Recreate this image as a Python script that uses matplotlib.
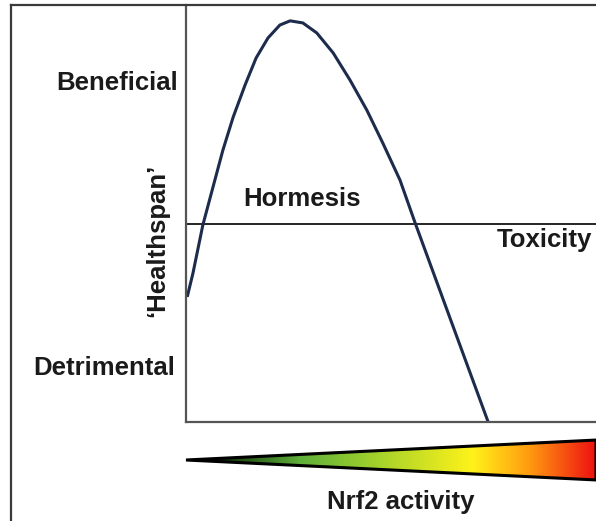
import numpy as np
import matplotlib
matplotlib.use("Agg")
import matplotlib.pyplot as plt
from matplotlib.lines import Line2D
from matplotlib.patches import Polygon
from matplotlib.colors import LinearSegmentedColormap

plt.rcParams['font.family'] = ['Liberation Sans', 'DejaVu Sans']

# healthspan response vs. Nrf2 activity (arbitrary units, 0-100)
activity = [0.3, 1.7, 4.1, 6.6, 9.0, 11.5, 14.4, 17.1, 20.0, 22.9, 25.4,
            28.5, 31.9, 35.9, 40.0, 44.1, 48.0, 52.2, 55.9, 64.4, 73.7]
healthspan = [30.0, 35.7, 47.2, 56.4, 65.2, 73.1, 80.8, 87.3, 92.1, 95.2, 96.2,
              95.7, 93.3, 88.5, 82.0, 74.8, 66.9, 58.0, 47.7, 24.9, 0.0]
threshold = 47.5

W, H = 596, 521
fig = plt.figure(figsize=(W / 100, H / 100), dpi=100)
fig.patch.set_facecolor('white')

def fx(px):
    return px / W

def fy(py):
    return 1 - py / H

# outer frame (left and top edges only)
frame_kw = dict(color='#3a3a3a', lw=1.6, transform=fig.transFigure)
fig.add_artist(Line2D([fx(11), fx(11)], [0, fy(5)], **frame_kw))
fig.add_artist(Line2D([fx(11), 1], [fy(5), fy(5)], **frame_kw))

ax = fig.add_axes([fx(186), fy(422), fx(596) - fx(186), fy(5) - fy(422)])
ax.set_xlim(0, 100)
ax.set_ylim(0, 100)
for side in ('top', 'right'):
    ax.spines[side].set_visible(False)
for side in ('left', 'bottom'):
    ax.spines[side].set_color('#555555')
    ax.spines[side].set_linewidth(1.6)
ax.set_xticks([])
ax.set_yticks([])

ax.axhline(threshold, color='black', lw=1.2)
ax.plot(activity, healthspan, color='#1d2b4d', lw=2.2, solid_capstyle='butt',
        solid_joinstyle='round')

txt = dict(fontsize=18.5, fontweight='bold', color='#1a1a1a')
fig.text(fx(178), fy(83), 'Beneficial', ha='right', va='center', **txt)
fig.text(fx(175), fy(368), 'Detrimental', ha='right', va='center', **txt)
fig.text(fx(157), fy(240), '\u2018Healthspan\u2019', ha='center', va='center',
         rotation=90, **txt)
fig.text(fx(302), fy(199), 'Hormesis', ha='center', va='center', **txt)
fig.text(fx(592), fy(240), 'Toxicity', ha='right', va='center', **txt)
fig.text(fx(401), fy(502), 'Nrf2 activity', ha='center', va='center', **txt)

# activity wedge with colour gradient
wax = fig.add_axes([fx(186), fy(481), fx(596) - fx(186), fy(439) - fy(481)])
wax.set_xlim(0, 1)
wax.set_ylim(-1, 1)
wax.axis('off')
cmap = LinearSegmentedColormap.from_list('nrf2', [
    (0.0, '#000000'), (0.12, '#1f4a12'), (0.28, '#5fb03a'),
    (0.48, '#a9d42a'), (0.70, '#fff21a'), (0.84, '#ff9a10'), (1.0, '#ee1111')])
grad = np.linspace(0, 1, 512).reshape(1, -1)
img = wax.imshow(grad, cmap=cmap, aspect='auto', extent=(0, 1, -1, 1))
wedge = Polygon([(0, 0), (1, 0.95), (1, -0.95)], closed=True,
                facecolor='none', edgecolor='black', lw=2.2, joinstyle='miter')
wax.add_patch(wedge)
img.set_clip_path(wedge)
wedge.set_clip_on(False)

fig.savefig('out.png', dpi=100, facecolor='white')
